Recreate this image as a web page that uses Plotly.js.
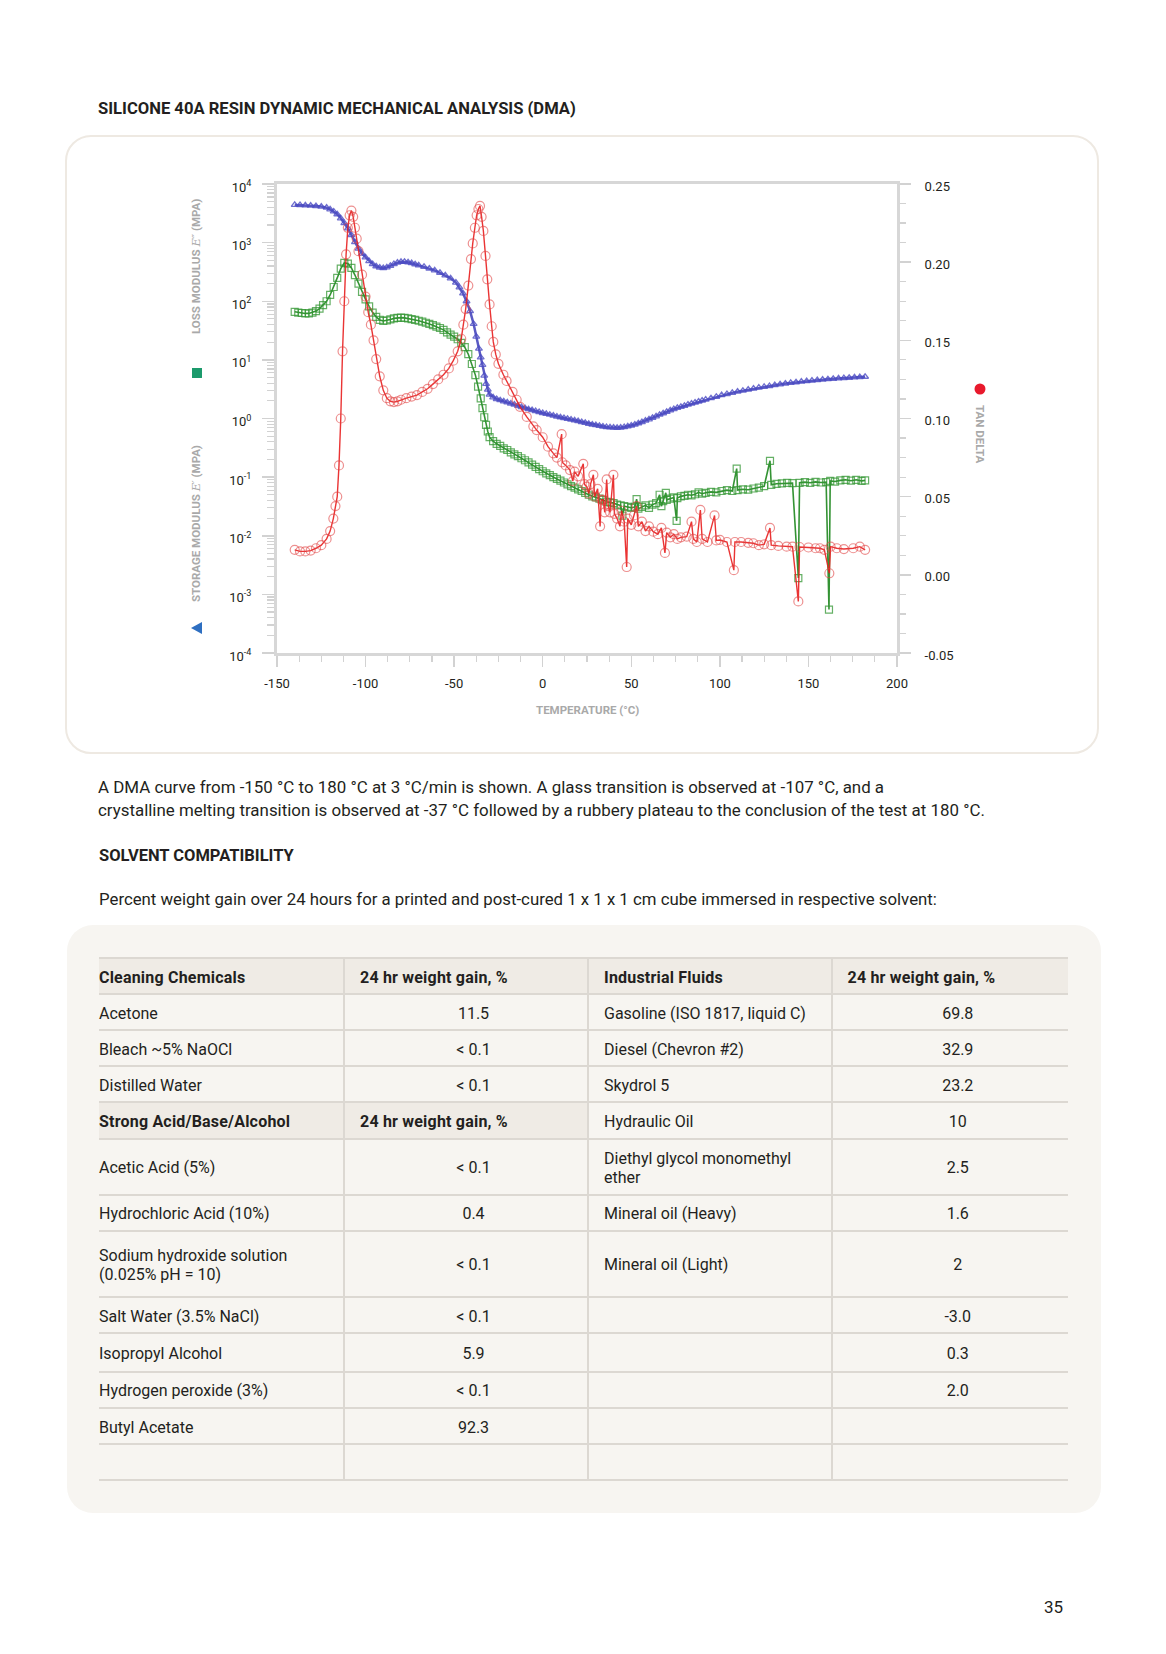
<!DOCTYPE html>
<html>
<head>
<meta charset="utf-8">
<script src="https://cdn.plot.ly/plotly-3.0.1.min.js"></script>
<style>
html,body{margin:0;padding:0;background:#ffffff;}
body{width:1166px;height:1654px;position:relative;overflow:hidden;font-family:Roboto,"Noto Sans",sans-serif;color:#231f20;}
.abs{position:absolute;}
#title{left:98px;top:99px;font-size:16.6px;line-height:20px;font-weight:700;}
#box{left:65px;top:135px;width:1030px;height:615px;border:2.5px solid #eee9e2;border-radius:26px;}
#chart{left:65px;top:135px;width:1035px;height:620px;}
#para{left:98px;top:776px;font-size:16.9px;line-height:23px;}
#sub{left:99px;top:846px;font-size:16.5px;line-height:20px;font-weight:700;}
#intro{left:99px;top:889px;font-size:16.8px;line-height:20px;}
#tbox{left:67px;top:925px;width:1034px;height:588px;background:#f7f5f1;border-radius:26px;}
#tbl{left:99px;top:957px;width:969px;border-collapse:collapse;table-layout:fixed;font-size:16px;}
#tbl td{border-top:2px solid #dcd8d2;border-bottom:2px solid #dcd8d2;padding:2px 0 0 15px;vertical-align:middle;line-height:19px;white-space:pre-line;}
#tbl td.c1{padding-left:0;border-right:2px solid #dcd8d2;}
#tbl td.c2{text-align:center;border-right:2px solid #dcd8d2;}
#tbl td.c3{border-right:2px solid #dcd8d2;}
#tbl td.c4{text-align:center;}
#tbl td.h{background:#efebe5;font-weight:700;letter-spacing:0.2px;}
#tbl td.h.c2,#tbl td.h.c4{text-align:left;}
#pg{left:1044px;top:1597px;font-size:17px;line-height:20px;}
</style>
</head>
<body>
<div id="title" class="abs">SILICONE 40A RESIN DYNAMIC MECHANICAL ANALYSIS (DMA)</div>
<div id="box" class="abs"></div>
<div id="chart" class="abs"></div>
<div id="para" class="abs">A DMA curve from -150 °C to 180 °C at 3 °C/min is shown. A glass transition is observed at -107 °C, and a<br>crystalline melting transition is observed at -37 °C followed by a rubbery plateau to the conclusion of the test at 180 °C.</div>
<div id="sub" class="abs">SOLVENT COMPATIBILITY</div>
<div id="intro" class="abs">Percent weight gain over 24 hours for a printed and post-cured 1 x 1 x 1 cm cube immersed in respective solvent:</div>
<div id="tbox" class="abs"></div>
<table id="tbl" class="abs"></table>
<div id="pg" class="abs">35</div>
<script>
// ---------- DMA data ----------
var storageT = [-140,-137,-134,-131,-128,-125,-122,-120,-118,-116,-114,-112,-110,-108,-106,-104,-102,-100,-98,-96,-94,-92,-90,-88,-86,-84,-82,-80,-78,-76,-74,-72,-70,-67,-64,-61,-58,-55,-52,-49,-47,-45,-43,-41,-39,-37.5,-36,-35,-34,-33,-32,-31,-30,-28,-26,-24,-22,-20,-18,-16,-14,-12,-10,-8,-6,-4,-2,0,2,4,6,8,10,12,14,16,18,20,22,24,26,28,30,32,34,36,38,40,42,44,46,48,50,52,54,56,58,60,62,64,66,68,70,72,74,76,78,80,82,84,86,88,90,92,95,98,101,104,107,110,113,116,119,122,125,128,131,134,137,140,143,146,149,152,155,158,161,164,167,170,173,176,179,182];
var storageModulus = [4400,4380,4330,4280,4200,4120,3950,3700,3400,3050,2600,2150,1750,1350,1020,790,650,560,485,430,395,375,368,378,402,432,456,470,472,462,446,428,410,388,362,336,306,276,246,208,172,136,100,68,41,25,15.5,11,8.2,5.4,3.9,3.1,2.55,2.3,2.15,2.05,1.96,1.88,1.8,1.72,1.64,1.57,1.5,1.44,1.39,1.34,1.29,1.24,1.2,1.16,1.12,1.08,1.05,1.02,0.99,0.96,0.93,0.9,0.87,0.84,0.81,0.79,0.77,0.75,0.73,0.715,0.705,0.7,0.695,0.7,0.715,0.735,0.76,0.79,0.83,0.87,0.92,0.97,1.03,1.09,1.16,1.23,1.3,1.38,1.45,1.52,1.58,1.65,1.72,1.8,1.87,1.95,2.02,2.1,2.22,2.35,2.5,2.62,2.74,2.87,2.98,3.1,3.24,3.36,3.47,3.58,3.7,3.82,3.95,4.05,4.15,4.25,4.35,4.43,4.52,4.6,4.68,4.76,4.83,4.9,4.96,5.02,5.08,5.15];

var lossT = [-140,-138,-136,-134,-132,-130,-128,-126,-124,-122,-120,-118,-116,-114,-112,-110,-108,-106,-104,-102,-100,-98,-96,-94,-92,-90,-88,-86,-84,-82,-80,-78,-76,-74,-72,-70,-68,-66,-64,-62,-60,-58,-56,-54,-52,-50,-48,-46,-44,-42,-40,-38,-36.5,-35,-34,-33,-32,-31,-30,-28,-26,-24,-22,-20,-18,-16,-14,-12,-10,-8,-6,-4,-2,0,2,4,6,8,10,12,14,16,18,20,22,24,26,28,30,32,34,36,38,40,42,44,45,46,48,50,52,53,54,56,58,60,62,64,66,67,68,69.5,70,72,74,75.6,76,78,80,82,84,86,88,90,92,95,98,101,104,107,109.5,110,113,116,119,122,125,128.3,129,132,135,138,141,144.3,145,148,151,154,157,160,161.6,162.3,165,168,171,174,177,180,182];
var lossModulus = [66,64,63,62,62,64,68,75,86,100,128,175,250,360,450,440,370,280,200,145,108,82,64,54,48,46,47,49,51,52,52.5,52,51,49.5,48,46.5,45,43,41,39,37,35,32.5,29.5,27,25,22.5,19.5,16.5,12.5,8.5,5.5,3.5,2.2,1.5,1.05,0.78,0.6,0.48,0.41,0.37,0.34,0.31,0.29,0.265,0.245,0.228,0.21,0.194,0.178,0.163,0.15,0.137,0.126,0.116,0.108,0.1,0.093,0.087,0.081,0.075,0.07,0.066,0.062,0.058,0.054,0.05,0.047,0.045,0.043,0.041,0.038,0.037,0.036,0.034,0.033,0.022,0.032,0.031,0.03,0.031,0.042,0.029,0.031,0.033,0.03,0.034,0.036,0.05,0.032,0.039,0.054,0.041,0.043,0.045,0.018,0.044,0.047,0.048,0.05,0.049,0.051,0.055,0.052,0.054,0.056,0.055,0.058,0.06,0.058,0.14,0.06,0.062,0.061,0.064,0.066,0.07,0.19,0.074,0.077,0.078,0.08,0.079,0.0019,0.08,0.082,0.08,0.083,0.081,0.082,0.00055,0.086,0.084,0.088,0.09,0.087,0.09,0.086,0.088];

var tanT = [-140,-137,-134,-131,-128,-125,-122,-120,-118.2,-117,-116,-115,-114,-113,-112,-111,-110,-109,-108,-107,-106,-105,-104,-102,-100,-98.5,-97,-95.5,-94,-92,-90,-88,-86,-84,-82,-80,-77,-74,-71,-68,-65,-62,-59,-56,-53,-50.5,-48,-46,-44.8,-43.5,-42,-40.5,-39.5,-38.3,-37.3,-36.3,-35.4,-34.5,-33.5,-32.3,-31.3,-30,-28.8,-27.9,-26.5,-25,-22.2,-20.4,-17,-14.7,-12.8,-9,-5.3,-3.4,0,3,6,8,10.7,11,13,15.4,17,18,20,22.9,23.5,24.8,26,27,28.6,29.3,31,32.4,33,34.2,35,36.1,37,38,39.9,40.5,42,43.6,44.5,46,47.4,48,50,51.5,53,54,56,58,60,62.4,65,67,69,70,72,74,76,78,81.3,84,85,87,89,90,93,97,98,100,104,107.9,108.5,112,116,118.9,122,125,128.3,129,133,137.7,141,144.3,145,150,154,156.5,159,161.8,162.5,166,170,175.3,179,182];
var tanDelta = [0.016,0.015,0.015,0.0155,0.017,0.019,0.023,0.028,0.036,0.044,0.05,0.07,0.1,0.143,0.175,0.205,0.222,0.23,0.233,0.229,0.222,0.215,0.207,0.192,0.178,0.168,0.16,0.15,0.138,0.127,0.118,0.113,0.111,0.1105,0.111,0.112,0.113,0.114,0.115,0.117,0.119,0.122,0.125,0.128,0.132,0.137,0.143,0.151,0.16,0.17,0.185,0.202,0.212,0.222,0.23,0.234,0.236,0.229,0.22,0.204,0.189,0.173,0.159,0.149,0.141,0.135,0.128,0.124,0.117,0.112,0.1075,0.101,0.095,0.0926,0.088,0.082,0.0777,0.075,0.09,0.072,0.07,0.067,0.06,0.066,0.063,0.071,0.058,0.0564,0.052,0.058,0.064,0.05,0.055,0.031,0.048,0.0479,0.04,0.061,0.044,0.04,0.064,0.039,0.036,0.031,0.041,0.034,0.005,0.036,0.032,0.038,0.044,0.031,0.034,0.028,0.031,0.0276,0.026,0.03,0.014,0.027,0.024,0.026,0.023,0.024,0.0244,0.034,0.023,0.021,0.0415,0.023,0.021,0.038,0.022,0.0223,0.021,0.003,0.021,0.021,0.0205,0.0202,0.019,0.0195,0.03,0.019,0.0185,0.018,0.018,-0.017,0.0178,0.0175,0.017,0.017,0.016,0.001,0.018,0.017,0.0165,0.017,0.018,0.016];

// axis tick labels
var xTickVals = [-150,-100,-50,0,50,100,150,200];
var xTickText = ['-150','-100','-50','0','50','100','150','200'];
var yTickVals = [1e-4,1e-3,1e-2,1e-1,1,10,100,1000,10000];
var yTickText = ['10<sup>-4</sup>','10<sup>-3</sup>','10<sup>-2</sup>','10<sup>-1</sup>','10<sup>0</sup>','10<sup>1</sup>','10<sup>2</sup>','10<sup>3</sup>','10<sup>4</sup>'];
var y2TickVals = [-0.05,0,0.05,0.10,0.15,0.20,0.25];
var y2TickText = ['-0.05','0.00','0.05','0.10','0.15','0.20','0.25'];

// ---------- solvent table data ----------
var cleaningHeader = ['Cleaning Chemicals','24 hr weight gain, %'];
var cleaningNames = ['Acetone','Bleach ~5% NaOCl','Distilled Water'];
var cleaningGain = ['11.5','< 0.1','< 0.1'];
var acidHeader = ['Strong Acid/Base/Alcohol','24 hr weight gain, %'];
var acidNames = ['Acetic Acid (5%)','Hydrochloric Acid (10%)','Sodium hydroxide solution\n(0.025% pH = 10)','Salt Water (3.5% NaCl)','Isopropyl Alcohol','Hydrogen peroxide (3%)','Butyl Acetate',''];
var acidGain = ['< 0.1','0.4','< 0.1','< 0.1','5.9','< 0.1','92.3',''];
var industrialHeader = ['Industrial Fluids','24 hr weight gain, %'];
var industrialNames = ['Gasoline (ISO 1817, liquid C)','Diesel (Chevron #2)','Skydrol 5','Hydraulic Oil','Diethyl glycol monomethyl\nether','Mineral oil (Heavy)','Mineral oil (Light)','','','','',''];
var industrialGain = ['69.8','32.9','23.2','10','2.5','1.6','2','-3.0','0.3','2.0','',''];

// ---------- chart ----------
var minorLog = [];
for (var e = -4; e < 4; e++) { for (var m = 2; m <= 9; m++) { minorLog.push(m * Math.pow(10, e)); } }

var axisGray = '#d7d7d7';
var tickGray = '#d2d2d2';

var traces = [
  {x: storageT, y: storageModulus, type: 'scatter', mode: 'lines+markers', yaxis: 'y', hoverinfo: 'skip',
   line: {color: 'rgba(60,60,185,0.85)', width: 2.5},
   marker: {symbol: 'triangle-up-open', size: 6, color: 'rgba(75,75,195,0.8)', line: {width: 1.3}}},
  {x: lossT, y: lossModulus, type: 'scatter', mode: 'lines+markers', yaxis: 'y', hoverinfo: 'skip',
   line: {color: 'rgba(30,135,30,0.9)', width: 1.6},
   marker: {symbol: 'square-open', size: 7, color: 'rgba(50,150,50,0.75)', line: {width: 1.2}}},
  {x: tanT, y: tanDelta, type: 'scatter', mode: 'lines+markers', yaxis: 'y2', hoverinfo: 'skip',
   line: {color: 'rgba(232,30,30,0.9)', width: 1.4},
   marker: {symbol: 'circle-open', size: 9, color: 'rgba(225,70,70,0.6)', line: {width: 1.2}}}
];

var lblFont = {family: 'Roboto, sans-serif', size: 11.5, color: '#a9a9a9', weight: 700};

var layout = {
  width: 1035, height: 620,
  margin: {l: 212, r: 203, t: 49, b: 102, pad: 0},
  paper_bgcolor: 'rgba(0,0,0,0)', plot_bgcolor: '#ffffff',
  showlegend: false,
  font: {family: 'Roboto, sans-serif', color: '#231f20', size: 12},
  xaxis: {range: [-150, 200], tickmode: 'array', tickvals: xTickVals, ticktext: xTickText,
    ticks: 'outside', ticklen: 11, tickwidth: 1.5, tickcolor: tickGray, ticklabelstandoff: 5,
    showline: true, linecolor: axisGray, linewidth: 3, mirror: true, showgrid: false, zeroline: false,
    tickfont: {size: 13},
    minor: {tick0: -150, dtick: 12.5, ticks: 'outside', ticklen: 6, tickwidth: 1.2, tickcolor: tickGray, showgrid: false}},
  yaxis: {type: 'log', range: [-4, 4], tickmode: 'array', tickvals: yTickVals, ticktext: yTickText,
    ticks: 'outside', ticklen: 12, tickwidth: 1.5, tickcolor: tickGray, ticklabelstandoff: 8, ticklabelshift: 3,
    showline: true, linecolor: axisGray, linewidth: 3, showgrid: false, zeroline: false,
    tickfont: {size: 13},
    minor: {tickmode: 'array', tickvals: minorLog, ticks: 'outside', ticklen: 7, tickwidth: 1.2, tickcolor: tickGray, showgrid: false}},
  yaxis2: {overlaying: 'y', side: 'right', range: [-0.05, 0.25], tickmode: 'array', tickvals: y2TickVals, ticktext: y2TickText,
    ticks: 'outside', ticklen: 11, tickwidth: 1.5, tickcolor: tickGray, ticklabelstandoff: 11, ticklabelshift: 2,
    showline: true, linecolor: axisGray, linewidth: 3, showgrid: false, zeroline: false,
    tickfont: {size: 13},
    minor: {tick0: -0.05, dtick: 0.0125, ticks: 'outside', ticklen: 6, tickwidth: 1.2, tickcolor: tickGray, showgrid: false}},
  annotations: [
    {text: 'LOSS MODULUS <span style="font-family:\'DejaVu Serif\',serif;font-style:italic;font-weight:normal">E″</span> (MPA)',
     xref: 'paper', yref: 'paper', x: -0.1306, y: 0.823, textangle: -90, showarrow: false, xanchor: 'center', yanchor: 'middle', font: lblFont},
    {text: 'STORAGE MODULUS <span style="font-family:\'DejaVu Serif\',serif;font-style:italic;font-weight:normal">E′</span> (MPA)',
     xref: 'paper', yref: 'paper', x: -0.1306, y: 0.275, textangle: -90, showarrow: false, xanchor: 'center', yanchor: 'middle', font: lblFont},
    {text: 'TAN DELTA', xref: 'paper', yref: 'paper', x: 1.1339, y: 0.467, textangle: 90, showarrow: false, xanchor: 'center', yanchor: 'middle', font: lblFont},
    {text: 'TEMPERATURE (°C)', xref: 'paper', yref: 'paper', x: 0.5, y: -0.1226, showarrow: false, xanchor: 'center', yanchor: 'middle', font: lblFont}
  ],
  shapes: [
    {type: 'rect', xref: 'paper', yref: 'paper', x0: -0.1371, x1: -0.1210, y0: 0.5864, y1: 0.6077, fillcolor: '#1c9a6c', line: {width: 0}},
    {type: 'path', xref: 'paper', yref: 'paper', path: 'M -0.1210 0.0661 L -0.1387 0.0533 L -0.1210 0.0405 Z', fillcolor: '#2e6fc1', line: {width: 0}},
    {type: 'circle', xref: 'paper', yref: 'paper', x0: 1.125, x1: 1.1427, y0: 0.5512, y1: 0.5746, fillcolor: '#e8192c', line: {width: 0}}
  ]
};

Plotly.newPlot('chart', traces, layout, {staticPlot: true, displayModeBar: false});

// ---------- table ----------
function esc(s) { return String(s).replace(/&/g, '&amp;').replace(/</g, '&lt;').replace(/>/g, '&gt;'); }
var rowHeights = [36, 36, 36, 36, 36.5, 56, 36, 66.5, 36, 38.5, 36.5, 36, 36];
var rows = [];
rows.push([{t: cleaningHeader[0], h: true}, {t: cleaningHeader[1], h: true}, {t: industrialHeader[0], h: true}, {t: industrialHeader[1], h: true}]);
for (var i = 0; i < cleaningNames.length; i++) {
  rows.push([{t: cleaningNames[i]}, {t: cleaningGain[i]}, {t: industrialNames[i]}, {t: industrialGain[i]}]);
}
rows.push([{t: acidHeader[0], h: true}, {t: acidHeader[1], h: true}, {t: industrialNames[3]}, {t: industrialGain[3]}]);
for (var j = 0; j < acidNames.length; j++) {
  var k = j + 4;
  rows.push([{t: acidNames[j]}, {t: acidGain[j]}, {t: industrialNames[k] || ''}, {t: industrialGain[k] || ''}]);
}
var html = '<colgroup><col style="width:245px"><col style="width:244px"><col style="width:243.5px"><col style="width:236.5px"></colgroup>';
rows.forEach(function (r, ri) {
  html += '<tr style="height:' + rowHeights[ri] + 'px">';
  r.forEach(function (c, ci) {
    html += '<td class="c' + (ci + 1) + (c.h ? ' h' : '') + '">' + esc(c.t) + '</td>';
  });
  html += '</tr>';
});
document.getElementById('tbl').innerHTML = html;
</script>
</body>
</html>
